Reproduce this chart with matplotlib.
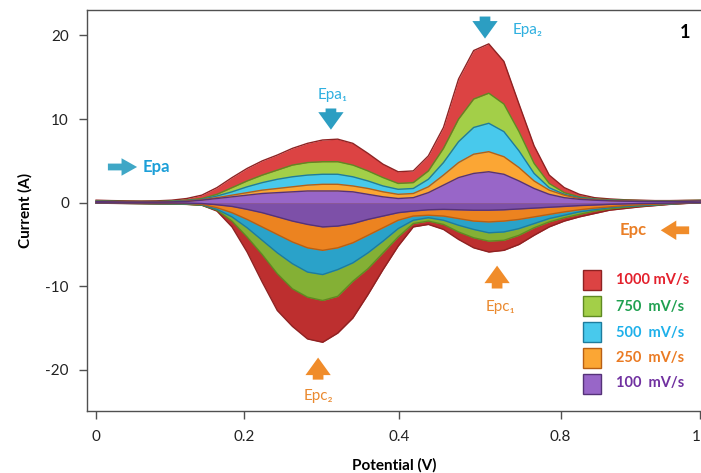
import matplotlib
matplotlib.use("Agg")
import matplotlib.pyplot as plt
from matplotlib.patches import Rectangle

plt.rcParams['font.family'] = ['Lato', 'DejaVu Sans']
plt.rcParams['axes.unicode_minus'] = False

# potential grid (V) and currents (A)
potential = [0.00, 0.02, 0.04, 0.06, 0.08, 0.10, 0.12, 0.14, 0.16, 0.18,
             0.20, 0.22, 0.24, 0.26, 0.28, 0.30, 0.32, 0.34, 0.36, 0.38,
             0.40, 0.42, 0.44, 0.46, 0.48, 0.50, 0.52, 0.54, 0.56, 0.58,
             0.60, 0.62, 0.64, 0.66, 0.68, 0.70, 0.72, 0.74, 0.76, 0.78, 0.80]

up_1000 = [0.3, 0.25, 0.22, 0.2, 0.22, 0.3, 0.5, 0.9, 1.8, 3.0,
           4.1, 5.0, 5.7, 6.5, 7.1, 7.5, 7.6, 7.1, 5.9, 4.6,
           3.7, 3.8, 5.6, 9.0, 14.8, 18.2, 19.0, 16.9, 11.8, 6.8,
           3.3, 1.8, 1.0, 0.6, 0.45, 0.35, 0.3, 0.25, 0.25, 0.28, 0.3]
down_1000 = [-0.05, -0.08, -0.1, -0.12, -0.15, -0.18, -0.2, -0.3, -1.0, -2.9,
             -5.9, -9.5, -12.9, -14.8, -16.3, -16.7, -15.6, -13.8, -11.0, -8.0,
             -5.2, -2.9, -2.6, -3.2, -4.4, -5.4, -5.9, -5.7, -5.0, -3.9,
             -2.9, -2.2, -1.7, -1.3, -0.9, -0.7, -0.5, -0.35, -0.2, -0.1, 0.0]

up_750 = [0.2, 0.18, 0.15, 0.15, 0.15, 0.2, 0.3, 0.5, 1.0, 1.8,
          2.6, 3.3, 3.9, 4.5, 4.8, 4.9, 4.9, 4.5, 3.8, 3.0,
          2.3, 2.4, 3.8, 6.5, 10.0, 12.4, 13.1, 11.8, 8.5, 4.7,
          2.3, 1.2, 0.7, 0.45, 0.35, 0.3, 0.25, 0.22, 0.22, 0.25, 0.28]
down_750 = [-0.05, -0.07, -0.09, -0.11, -0.13, -0.16, -0.2, -0.3, -0.9, -2.2,
            -4.1, -6.2, -8.5, -10.3, -11.3, -11.7, -11.2, -9.4, -7.9, -6.0,
            -4.1, -2.5, -2.2, -2.6, -3.5, -4.2, -4.6, -4.5, -3.9, -3.0,
            -2.3, -1.8, -1.4, -1.0, -0.75, -0.55, -0.4, -0.3, -0.15, -0.08, 0.0]

up_500 = [0.18, 0.15, 0.12, 0.12, 0.12, 0.15, 0.25, 0.4, 0.8, 1.3,
          1.9, 2.4, 2.8, 3.1, 3.3, 3.4, 3.4, 3.1, 2.6, 2.0,
          1.6, 1.7, 2.8, 4.8, 7.3, 9.0, 9.5, 8.5, 6.2, 3.5,
          1.8, 1.0, 0.6, 0.4, 0.3, 0.25, 0.22, 0.2, 0.2, 0.22, 0.25]
down_500 = [-0.04, -0.06, -0.08, -0.09, -0.11, -0.13, -0.15, -0.25, -0.8, -1.7,
            -3.0, -4.5, -6.0, -7.3, -8.3, -8.6, -8.0, -7.2, -6.0, -4.6,
            -3.1, -2.1, -1.8, -2.1, -2.7, -3.2, -3.6, -3.5, -3.1, -2.5,
            -1.9, -1.5, -1.1, -0.85, -0.6, -0.45, -0.35, -0.25, -0.15, -0.05, 0.0]

up_250 = [0.15, 0.12, 0.1, 0.1, 0.1, 0.12, 0.2, 0.35, 0.6, 0.9,
          1.2, 1.5, 1.7, 1.9, 2.1, 2.2, 2.2, 2.0, 1.7, 1.3,
          1.0, 1.1, 1.9, 3.3, 4.8, 5.8, 6.1, 5.5, 4.2, 2.6,
          1.5, 0.9, 0.5, 0.35, 0.27, 0.22, 0.2, 0.18, 0.18, 0.2, 0.22]
down_250 = [-0.03, -0.05, -0.06, -0.07, -0.08, -0.09, -0.1, -0.2, -0.6, -1.2,
            -2.0, -2.9, -3.8, -4.7, -5.4, -5.7, -5.4, -4.8, -3.9, -3.0,
            -2.1, -1.6, -1.5, -1.6, -1.9, -2.2, -2.3, -2.2, -2.0, -1.7,
            -1.4, -1.1, -0.85, -0.65, -0.5, -0.35, -0.25, -0.18, -0.1, -0.05, 0.0]

up_100 = [0.12, 0.1, 0.08, 0.08, 0.08, 0.1, 0.15, 0.3, 0.5, 0.7,
          0.9, 1.1, 1.2, 1.3, 1.4, 1.4, 1.4, 1.3, 1.0, 0.7,
          0.5, 0.6, 1.2, 2.1, 3.0, 3.5, 3.7, 3.4, 2.6, 1.7,
          1.0, 0.6, 0.4, 0.3, 0.22, 0.18, 0.15, 0.14, 0.14, 0.16, 0.2]
down_100 = [-0.02, -0.03, -0.04, -0.04, -0.04, -0.04, -0.05, -0.1, -0.25, -0.45,
            -0.8, -1.2, -1.7, -2.2, -2.6, -2.9, -2.8, -2.5, -2.0, -1.6,
            -1.2, -1.0, -0.85, -0.8, -0.85, -0.9, -0.9, -0.85, -0.75, -0.65,
            -0.55, -0.45, -0.35, -0.28, -0.2, -0.15, -0.1, -0.08, -0.05, -0.02, 0.0]

labels = ['1000 mV/s', '750  mV/s', '500  mV/s', '250  mV/s', '100  mV/s']
x_ticks = [0, 0.196, 0.401, 0.615, 0.80]
x_tick_labels = ['0', '0.2', '0.4', '0.8', '1']

series = [
    (up_1000, down_1000, '#dc4343', '#bd2f2f', '#8e2222', '#e3202c'),
    (up_750, down_750, '#a3cf48', '#84b035', '#5f8a22', '#1fa050'),
    (up_500, down_500, '#48c9ec', '#2aa2c9', '#1d7c9e', '#1eb0ea'),
    (up_250, down_250, '#fba634', '#ec8320', '#b85f14', '#ea7a22'),
    (up_100, down_100, '#9866c8', '#7d50a8', '#553278', '#7030a0'),
]

fig = plt.figure(figsize=(7.01, 4.73), dpi=100)
ax = fig.add_axes([87 / 701, 1 - 411 / 473, 614 / 701, 401 / 473])

for up, down, c_up, c_down, c_edge, c_txt in series:
    ax.fill_between(potential, 0, up, color=c_up, lw=0)
    ax.fill_between(potential, down, 0, color=c_down, lw=0)
    ax.plot(potential, up, color=c_edge, lw=1.0, solid_joinstyle='round')
    ax.plot(potential, down, color=c_edge, lw=1.0, solid_joinstyle='round')

ax.set_xlim(-0.012, 0.801)
ax.set_ylim(-24.92, 23.05)

ax.spines['right'].set_visible(False)
for s in ['left', 'bottom', 'top']:
    ax.spines[s].set_color('#505050')
    ax.spines[s].set_linewidth(1.0)

ax.set_xticks(x_ticks)
ax.set_xticklabels(x_tick_labels)
ax.get_xticklabels()[-1].set_ha('right')
ax.set_yticks([-20, -10, 0, 10, 20])
ax.tick_params(axis='both', direction='out', length=6, width=1, color='#505050',
               labelsize=11, labelcolor='#222222')
ax.tick_params(axis='y', pad=7)
ax.tick_params(axis='x', pad=8)

ax.set_xlabel('Potential (V)', fontsize=11, fontweight='bold', labelpad=10)
ax.set_ylabel('Current (A)', fontsize=11, fontweight='bold', labelpad=9)

# annotations
blue_txt = '#2fb0e0'
blue_arr = '#2c9ec2'
orange = '#f08c2a'


def block_arrow(tail, tip, color, hw=1.3, hl=0.9, tw=0.55):
    ax.annotate('', xy=tip, xytext=tail,
                arrowprops=dict(arrowstyle='simple,head_width=%s,head_length=%s,tail_width=%s' % (hw, hl, tw),
                                color=color, lw=0, mutation_scale=14))


block_arrow((0.012, 4.27), (0.058, 4.27), '#3fa7c6', hw=0.9, hl=0.8, tw=0.35)
ax.text(0.061, 4.27, 'Epa', color='#1c9fd8', fontsize=12, fontweight='bold', va='center')

block_arrow((0.311, 11.6), (0.311, 8.4), blue_arr)
ax.text(0.313, 12.9, 'Epa₁', color=blue_txt, fontsize=11, ha='center', va='center')

block_arrow((0.515, 22.6), (0.515, 19.3), blue_arr)
ax.text(0.571, 20.7, 'Epa₂', color=blue_txt, fontsize=11, ha='center', va='center')

ax.text(0.78, 20.4, '1', color='black', fontsize=13, fontweight='bold', ha='center', va='center')

block_arrow((0.789, -3.3), (0.744, -3.3), orange, hw=1.0, hl=0.8, tw=0.4)
ax.text(0.711, -3.3, 'Epc', color='#ea7f26', fontsize=12, fontweight='bold', ha='center', va='center')

block_arrow((0.531, -10.6), (0.531, -7.2), orange)
ax.text(0.535, -12.5, 'Epc₁', color='#ea8a30', fontsize=11, ha='center', va='center')

block_arrow((0.294, -21.5), (0.294, -18.2), orange)
ax.text(0.294, -23.1, 'Epc₂', color='#ea8a30', fontsize=11, ha='center', va='center')

# legend drawn by hand
leg_y = [280, 306.5, 332.5, 358, 383.5]
for (up, down, c_up, c_down, c_edge, c_txt), lab, py in zip(series, labels, leg_y):
    fx = (583 - 87) / 614
    fy = (411 - py - 10) / 401
    ax.add_patch(Rectangle((fx, fy), 18 / 614, 20 / 401, transform=ax.transAxes,
                           facecolor=c_up, edgecolor=c_edge, lw=1.0, clip_on=False))
    ax.text((616 - 87) / 614, (411 - py) / 401, lab, transform=ax.transAxes,
            color=c_txt, fontsize=10.5, fontweight='bold', va='center', ha='left')

fig.savefig('out.png', dpi=100)
